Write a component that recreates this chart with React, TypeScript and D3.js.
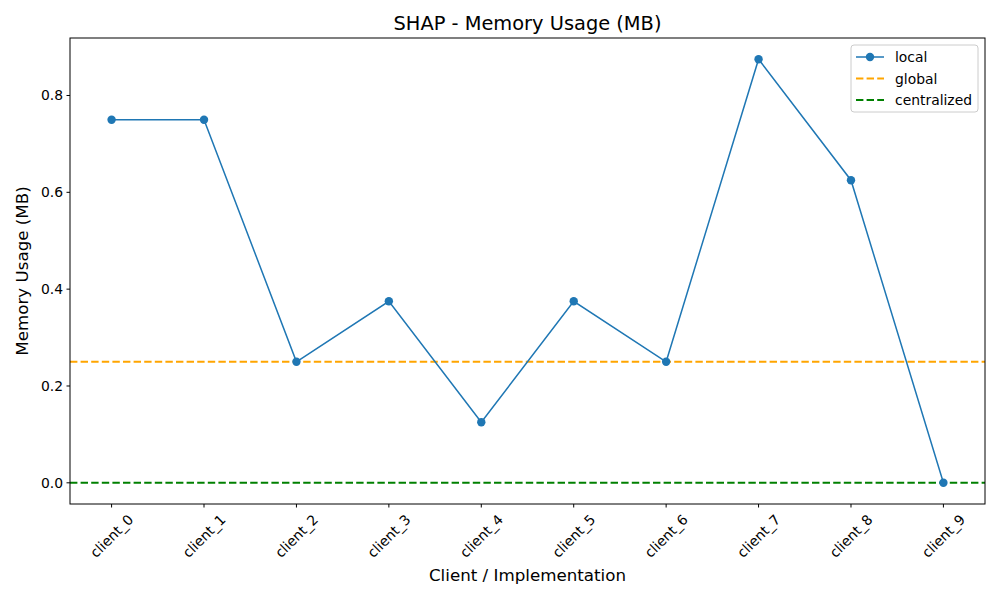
import React, { useEffect, useRef } from "react";
import * as d3 from "d3";

const clients = ["client_0", "client_1", "client_2", "client_3", "client_4", "client_5", "client_6", "client_7", "client_8", "client_9"];
const localValues = [0.75, 0.75, 0.25, 0.375, 0.125, 0.375, 0.25, 0.875, 0.625, 0.0];
const globalValue = 0.25;
const centralizedValue = 0.0;
const yTicks = [0.0, 0.2, 0.4, 0.6, 0.8];

const FONT = "DejaVu Sans, sans-serif";

export default function App() {
  const svgRef = useRef<SVGSVGElement>(null);

  useEffect(() => {
    const svg = d3.select(svgRef.current);
    svg.selectAll("*").remove();

    const W = 1000, H = 600;
    const left = 70, right = 985, top = 38, bottom = 504;

    const x = d3.scaleLinear().domain([-0.45, clients.length - 1 + 0.45]).range([left, right]);
    const yMin = Math.min(...localValues, centralizedValue);
    const yMax = Math.max(...localValues, globalValue);
    const pad = (yMax - yMin) * 0.05;
    const y = d3.scaleLinear().domain([yMin - pad, yMax + pad]).range([bottom, top]);

    svg.append("rect").attr("width", W).attr("height", H).attr("fill", "white");

    // horizontal reference lines
    svg.append("line")
      .attr("x1", left).attr("x2", right)
      .attr("y1", y(globalValue)).attr("y2", y(globalValue))
      .attr("stroke", "orange").attr("stroke-width", 2).attr("stroke-dasharray", "7.4,3.2");
    svg.append("line")
      .attr("x1", left).attr("x2", right)
      .attr("y1", y(centralizedValue)).attr("y2", y(centralizedValue))
      .attr("stroke", "green").attr("stroke-width", 2).attr("stroke-dasharray", "7.4,3.2");

    const line = d3.line<number>().x((d, i) => x(i)).y(d => y(d));
    svg.append("path")
      .datum(localValues)
      .attr("d", line)
      .attr("fill", "none")
      .attr("stroke", "#1f77b4")
      .attr("stroke-width", 1.5);

    svg.selectAll("circle.pt")
      .data(localValues)
      .join("circle")
      .attr("class", "pt")
      .attr("cx", (d, i) => x(i))
      .attr("cy", d => y(d))
      .attr("r", 4.2)
      .attr("fill", "#1f77b4");

    // frame
    svg.append("rect")
      .attr("x", left).attr("y", top)
      .attr("width", right - left).attr("height", bottom - top)
      .attr("fill", "none").attr("stroke", "black").attr("stroke-width", 1);

    // y ticks
    const yt = svg.append("g");
    yTicks.forEach(t => {
      yt.append("line").attr("x1", left - 3.5).attr("x2", left).attr("y1", y(t)).attr("y2", y(t)).attr("stroke", "black");
      yt.append("text")
        .attr("x", left - 7).attr("y", y(t))
        .attr("text-anchor", "end").attr("dominant-baseline", "central")
        .style("font-family", FONT).style("font-size", "13.9px")
        .text(t.toFixed(1));
    });

    // x ticks
    const xt = svg.append("g");
    clients.forEach((c, i) => {
      xt.append("line").attr("x1", x(i)).attr("x2", x(i)).attr("y1", bottom).attr("y2", bottom + 3.5).attr("stroke", "black");
      xt.append("text")
        .attr("transform", `translate(${x(i)},${bottom + 32}) rotate(-45)`)
        .attr("text-anchor", "middle").attr("dominant-baseline", "central")
        .style("font-family", FONT).style("font-size", "13.9px")
        .text(c);
    });

    svg.append("text")
      .attr("x", (left + right) / 2).attr("y", 30)
      .attr("text-anchor", "middle")
      .style("font-family", FONT).style("font-size", "19.4px")
      .text("SHAP - Memory Usage (MB)");

    svg.append("text")
      .attr("x", (left + right) / 2).attr("y", 581)
      .attr("text-anchor", "middle")
      .style("font-family", FONT).style("font-size", "16.7px")
      .text("Client / Implementation");

    svg.append("text")
      .attr("transform", `translate(28,${(top + bottom) / 2}) rotate(-90)`)
      .attr("text-anchor", "middle")
      .style("font-family", FONT).style("font-size", "16.7px")
      .text("Memory Usage (MB)");

    // legend
    const lg = svg.append("g").attr("transform", "translate(851,45)");
    lg.append("rect").attr("width", 127).attr("height", 67).attr("rx", 3)
      .attr("fill", "white").attr("fill-opacity", 0.8).attr("stroke", "#cccccc");
    const items = [
      { label: "local", color: "#1f77b4", dash: null as string | null, w: 1.5, marker: true },
      { label: "global", color: "orange", dash: "7.4,3.2", w: 2, marker: false },
      { label: "centralized", color: "green", dash: "7.4,3.2", w: 2, marker: false },
    ];
    items.forEach((it, i) => {
      const cy = 12 + i * 21.5;
      lg.append("line").attr("x1", 5).attr("x2", 33).attr("y1", cy).attr("y2", cy)
        .attr("stroke", it.color).attr("stroke-width", it.w)
        .attr("stroke-dasharray", it.dash);
      if (it.marker) lg.append("circle").attr("cx", 19).attr("cy", cy).attr("r", 4.2).attr("fill", it.color);
      lg.append("text").attr("x", 44).attr("y", cy).attr("dominant-baseline", "central")
        .style("font-family", FONT).style("font-size", "13.9px").text(it.label);
    });
  }, []);

  return <svg ref={svgRef} width={1000} height={600} style={{ display: "block", margin: -8 }} />;
}
